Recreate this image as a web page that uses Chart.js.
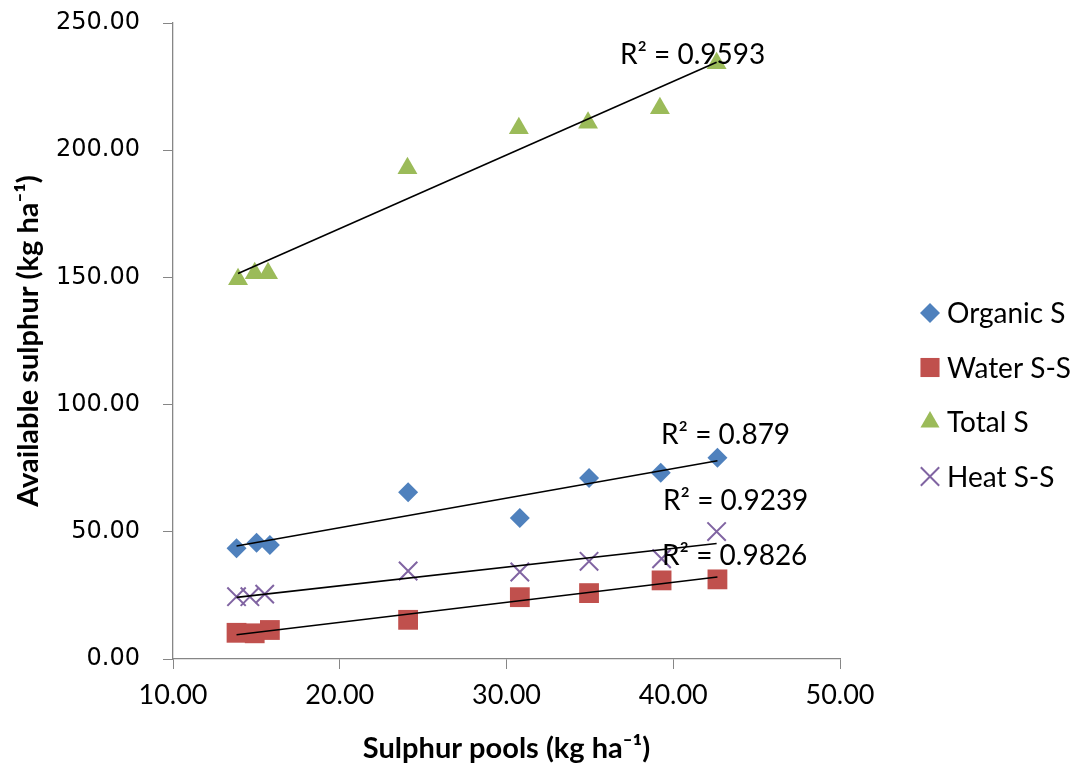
<!DOCTYPE html>
<html>
<head>
<meta charset="utf-8">
<title>Available sulphur vs sulphur pools</title>
<script src="https://cdn.jsdelivr.net/npm/chart.js@4/dist/chart.umd.min.js"></script>
<style>
    html, body { margin: 0; padding: 0; background: #FFFFFF; }
    #wrap { width: 1087px; height: 767px; }
</style>
</head>
<body>
<div id="wrap"><canvas id="sulphurChart" width="1087" height="767"></canvas></div>
<script>
// Values (kg ha-1)
const organicX = [13.81, 15.01, 15.81, 24.10, 30.80, 34.95, 39.25, 42.65];
const organicY = [43.5, 45.7, 44.8, 65.5, 55.4, 71.1, 73.2, 79.1];

const waterX = [13.81, 14.90, 15.81, 24.10, 30.80, 34.95, 39.30, 42.65];
const waterY = [10.3, 10.1, 11.4, 15.4, 24.3, 25.9, 30.9, 31.3];

const totalX = [13.90, 14.90, 15.70, 24.06, 30.74, 34.89, 39.20, 42.60];
const totalY = [149.3, 151.6, 151.6, 192.9, 208.6, 210.8, 216.5, 234.2];

const heatX = [13.81, 14.61, 15.50, 24.10, 30.80, 34.95, 39.30, 42.60];
const heatY = [24.5, 24.5, 25.5, 34.6, 34.2, 38.4, 39.4, 50.1];

const seriesNames = ["Organic S", "Water S-S", "Total S", "Heat S-S"];
const rSquaredText = ["R² = 0.879", "R² = 0.9826", "R² = 0.9593", "R² = 0.9239"];

const xTicks = [10, 20, 30, 40, 50];
const yTicks = [0, 50, 100, 150, 200, 250];

// Where each R² label sits, in data units (left edge, vertical middle)
const R2_ANCHORS = [
    { x: 39.27, y: 88.0 },
    { x: 39.33, y: 40.5 },
    { x: 36.81, y: 237.4 },
    { x: 39.39, y: 62.1 },
];

const MARKERS = [
    { style: "rectRot",  color: "#4F81BD", radius: 10,   legendRadius: 10   },
    { style: "rect",     color: "#C0504D", radius: 14,   legendRadius: 13.5 },
    { style: "triangle", color: "#9BBB59", radius: 11.5, legendRadius: 11   },
    { style: "crossRot", color: "#8064A2", radius: 13,   legendRadius: 13   },
];

const AXIS_GREY = "#868686";
const TEXT_FONT = "Lato, 'Open Sans', sans-serif";

const pairs = (xs, ys) => xs.map((x, i) => ({ x, y: ys[i] }));

// Ordinary least squares trend line across the series' x range
function trendLine(xs, ys) {
    const n = xs.length;
    const mx = xs.reduce((a, b) => a + b, 0) / n;
    const my = ys.reduce((a, b) => a + b, 0) / n;
    let sxy = 0, sxx = 0;
    xs.forEach((x, i) => { sxy += (x - mx) * (ys[i] - my); sxx += (x - mx) * (x - mx); });
    const slope = sxy / sxx;
    const x0 = Math.min(...xs), x1 = Math.max(...xs);
    return [
        { x: x0, y: my + slope * (x0 - mx) },
        { x: x1, y: my + slope * (x1 - mx) },
    ];
}

const seriesX = [organicX, waterX, totalX, heatX];
const seriesY = [organicY, waterY, totalY, heatY];

const scatterSets = seriesNames.map((name, i) => ({
    label:           name,
    data:            pairs(seriesX[i], seriesY[i]),
    pointStyle:      MARKERS[i].style,
    pointRadius:     MARKERS[i].radius,
    pointHoverRadius: MARKERS[i].radius,
    backgroundColor: MARKERS[i].color,
    borderColor:     MARKERS[i].color,
    pointBorderWidth: MARKERS[i].style === "crossRot" ? 2 : 0,
    showLine:        false,
    order:           1,
}));

const trendSets = seriesNames.map((name, i) => ({
    label:       name + " trend",
    data:        trendLine(seriesX[i], seriesY[i]),
    showLine:    true,
    borderColor: "#000000",
    borderWidth: 1.6,
    pointRadius: 0,
    order:       0,
}));

// Legend drawn with Chart.js' own point renderer so each marker keeps its size
const sideLegend = {
    id: "sideLegend",
    afterDraw(chart) {
        const ctx = chart.ctx;
        const rowTop = 313, rowGap = 54.5, markX = 930, textX = 947;
        ctx.save();
        ctx.font = "28px " + TEXT_FONT;
        ctx.textBaseline = "middle";
        ctx.textAlign = "left";
        seriesNames.forEach((name, i) => {
            const y = rowTop + i * rowGap;
            const m = MARKERS[i];
            ctx.fillStyle = m.color;
            ctx.strokeStyle = m.color;
            ctx.lineWidth = m.style === "crossRot" ? 2 : 0;
            Chart.helpers.drawPoint(ctx, {
                pointStyle: m.style,
                radius: m.legendRadius,
                rotation: 0,
                borderWidth: m.style === "crossRot" ? 2 : 0,
            }, markX, y);
            ctx.fillStyle = "#000000";
            ctx.fillText(name, textX, y + 1);
        });
        ctx.restore();
    }
};

// R² labels placed through the chart scales
const rSquaredLabels = {
    id: "rSquaredLabels",
    afterDatasetsDraw(chart) {
        const ctx = chart.ctx;
        const xs = chart.scales.x, ys = chart.scales.y;
        ctx.save();
        ctx.font = "28px " + TEXT_FONT;
        ctx.fillStyle = "#000000";
        ctx.textBaseline = "middle";
        ctx.textAlign = "left";
        rSquaredText.forEach((txt, i) => {
            ctx.fillText(txt, xs.getPixelForValue(R2_ANCHORS[i].x), ys.getPixelForValue(R2_ANCHORS[i].y));
        });
        ctx.restore();
    }
};

new Chart(document.getElementById("sulphurChart"), {
    type: "scatter",
    data: { datasets: [...trendSets, ...scatterSets] },
    plugins: [rSquaredLabels, sideLegend],
    options: {
        responsive: false,
        animation:  false,
        layout: { padding: { top: 23, right: 247, bottom: 0, left: 0 } },
        plugins: {
            legend:  { display: false },
            tooltip: { enabled: false },
        },
        scales: {
            x: {
                type: "linear",
                min: 10,
                max: 50,
                afterBuildTicks(scale) { scale.ticks = xTicks.map(v => ({ value: v })); },
                afterFit(scale) { scale.height = 108; },
                ticks: {
                    color:    "#000000",
                    padding:  10,
                    font:     { family: TEXT_FONT, size: 27 },
                    callback: v => Number(v).toFixed(2),
                },
                grid:   { drawOnChartArea: false, drawTicks: true, tickLength: 10, color: AXIS_GREY },
                border: { display: true, color: AXIS_GREY, width: 1.3 },
                title: {
                    display: true,
                    text:    "Sulphur pools (kg ha⁻¹)",
                    color:   "#000000",
                    font:    { family: TEXT_FONT, size: 29, weight: "bold" },
                    padding: { top: 0, bottom: 1 },
                },
            },
            y: {
                type: "linear",
                min: 0,
                max: 250,
                afterBuildTicks(scale) { scale.ticks = yTicks.map(v => ({ value: v })); },
                afterFit(scale) {
                    scale.width = 173;
                    // labels overhang is already covered by the layout padding
                    scale.paddingTop = 0;
                    scale.paddingBottom = 0;
                },
                ticks: {
                    color:    "#000000",
                    padding:  23,
                    font:     { family: "'DejaVu Sans', sans-serif", size: 24 },
                    callback: v => Number(v).toFixed(2),
                },
                grid:   { drawOnChartArea: false, drawTicks: true, tickLength: 10, color: AXIS_GREY },
                border: { display: true, color: AXIS_GREY, width: 1.3 },
                title: {
                    display: true,
                    text:    "Available sulphur (kg ha⁻¹)",
                    color:   "#000000",
                    font:    { family: TEXT_FONT, size: 29, weight: "bold" },
                    padding: { top: 11, bottom: 0 },
                },
            },
        },
    },
});
</script>
</body>
</html>
